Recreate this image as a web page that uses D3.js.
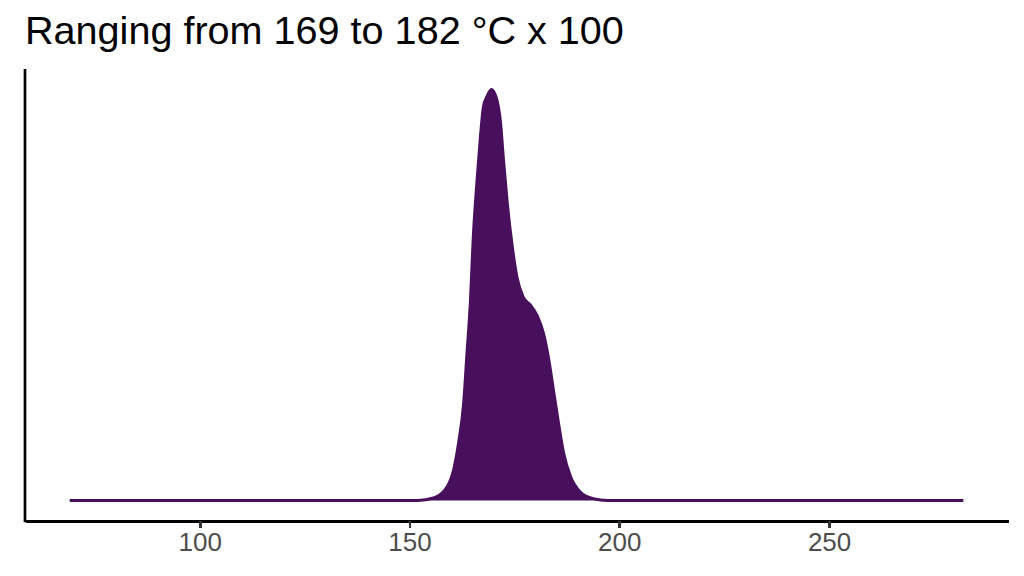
<!DOCTYPE html>
<html lang="en">
<head>
<meta charset="UTF-8">
<title>Density</title>
<script src="https://cdn.jsdelivr.net/npm/d3@7"></script>
<style>
    body { margin: 0; background: #fff; }
    .title { font-family: "Liberation Sans", Arial, sans-serif; font-size: 39.6px; fill: #000; }
    .axis path, .axis line { stroke: #000; stroke-width: 2.7px; shape-rendering: crispEdges; }
    .axis line { stroke: #333; }
    .axis text { font-family: "Liberation Sans", Arial, sans-serif; font-size: 26px; fill: #4d4d4d; }
</style>
</head>
<body>
<script>
    // temperature (°C) and estimated density
    var temps = [69, 152, 155.7, 159.0, 160.5, 161.7, 162.9, 163.7, 164.5, 165.2, 166.1, 166.9,
        167.6, 168.5, 169.5, 170.7, 171.7, 172.4, 173.3, 174.5, 175.6, 177.1, 178.8, 180.4,
        181.9, 183.1, 184.3, 185.5, 186.7, 188.4, 190.7, 193.8, 197.2, 282];
    var density = [0, 0, 0.0004, 0.0023, 0.0050, 0.0095, 0.0160, 0.0243, 0.0326, 0.0434, 0.0528, 0.0599,
        0.0648, 0.0666, 0.0677, 0.0663, 0.0622, 0.0561, 0.0490, 0.0418, 0.0368, 0.0335, 0.0322, 0.0305,
        0.0276, 0.0236, 0.0182, 0.0128, 0.0079, 0.0039, 0.0014, 0.0003, 0, 0];
    var xTicks = [100, 150, 200, 250];
    var title = "Ranging from 169 to 182 °C x 100";

    var width = 1024, height = 576;
    var panel = {left: 25, right: 1008, top: 69, bottom: 521};

    var svg = d3.select("body").append("svg")
        .attr("width", width)
        .attr("height", height);

    // ggplot-like 5% expansion on both scales
    var xMin = d3.min(temps), xMax = d3.max(temps);
    var xPad = (xMax - xMin) * 0.05;
    var xScale = d3.scaleLinear()
        .domain([xMin - xPad, xMax + xPad])
        .range([panel.left, panel.right]);

    var yMax = d3.max(density);
    var yScale = d3.scaleLinear()
        .domain([-yMax * 0.05, yMax * 1.05])
        .range([panel.bottom, panel.top]);

    var pts = temps.map(function(t, i) { return [t, density[i]]; });

    var area = d3.area()
        .x(function(d) { return xScale(d[0]); })
        .y0(yScale(0))
        .y1(function(d) { return yScale(d[1]); })
        .curve(d3.curveMonotoneX);

    var line = d3.line()
        .x(function(d) { return xScale(d[0]); })
        .y(function(d) { return yScale(d[1]); })
        .curve(d3.curveMonotoneX);

    svg.append("path")
        .datum(pts)
        .attr("d", area)
        .attr("fill", "#48105c");

    svg.append("path")
        .datum(pts)
        .attr("d", line)
        .attr("fill", "none")
        .attr("stroke", "#48105c")
        .attr("stroke-width", 3);

    // x axis
    var xAxis = d3.axisBottom(xScale)
        .tickValues(xTicks)
        .tickSize(7)
        .tickPadding(5)
        .tickSizeOuter(0);

    svg.append("g")
        .attr("class", "axis")
        .attr("transform", "translate(0," + panel.bottom + ")")
        .call(xAxis);

    // y axis line only
    svg.append("line")
        .attr("x1", panel.left).attr("x2", panel.left)
        .attr("y1", panel.top).attr("y2", panel.bottom + 1.3)
        .attr("stroke", "#000")
        .attr("stroke-width", 2.7);

    svg.append("text")
        .attr("class", "title")
        .attr("x", 25)
        .attr("y", 44)
        .text(title);
</script>
</body>
</html>
